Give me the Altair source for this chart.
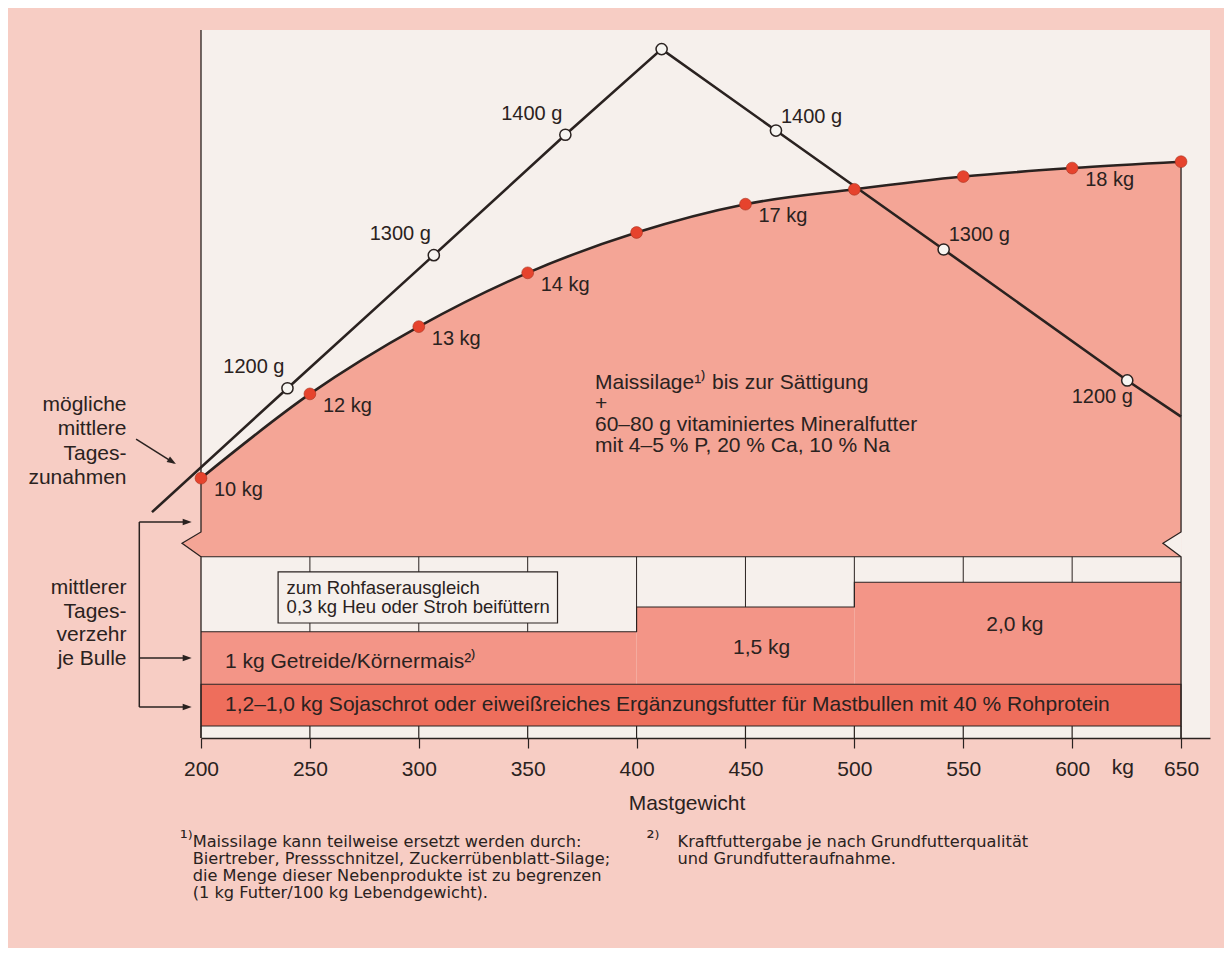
import altair as alt
import pandas as pd

# ---------------- data ----------------
# Mastgewicht (kg) of the marked points on the Maissilage curve
weights = [200, 250, 300, 350, 400, 450, 500, 550, 600, 650]
# relative height of the curve in the drawing (0 = x axis, 100 = top of the panel)
intake_height = [36.7, 48.6, 58.1, 65.7, 71.4, 75.4, 77.5, 79.3, 80.5, 81.4]
intake_labels = ["10 kg", "12 kg", "13 kg", "14 kg", "", "17 kg", "", "", "18 kg", ""]

# line of possible mean daily gains
gain_weights = [177.5, 239.7, 306.9, 367.3, 411.5, 464.0, 541.0, 625.3, 650.0]
gain_height = [31.9, 49.4, 68.2, 85.2, 97.3, 85.8, 69.0, 50.5, 45.4]
gain_labels = ["", "1200 g", "1300 g", "1400 g", "", "1400 g", "1300 g", "1200 g", ""]

tick_values = [200, 250, 300, 350, 400, 450, 500, 550, 600, 650]

# lower feeding bands (same relative height units)
band_top = 25.6
grain_from = [200, 400, 500]
grain_to = [400, 500, 650]
grain_top = [15.0, 18.5, 22.0]
grain_labels = ["1 kg Getreide/Körnermais²⁾", "1,5 kg", "2,0 kg"]
soy_from = 200
soy_to = 650
soy_top = 7.6
soy_bottom = 1.7
soy_label = "1,2–1,0 kg Sojaschrot oder eiweißreiches Ergänzungsfutter für Mastbullen mit 40 % Rohprotein"
hay_from = 235.4
hay_to = 363.7
hay_top = 23.45
hay_bottom = 16.24
hay_lines = ["zum Rohfaserausgleich", "0,3 kg Heu oder Stroh beifüttern"]

silage_lines = ["Maissilage¹⁾ bis zur Sättigung", "+",
                "60–80 g vitaminiertes Mineralfutter",
                "mit 4–5 % P, 20 % Ca, 10 % Na"]
gain_note = ["mögliche", "mittlere", "Tages-", "zunahmen"]
intake_note = ["mittlerer", "Tages-", "verzehr", "je Bulle"]
footnote1 = ["Maissilage kann teilweise ersetzt werden durch:",
             "Biertreber, Pressschnitzel, Zuckerrübenblatt-Silage;",
             "die Menge dieser Nebenprodukte ist zu begrenzen",
             "(1 kg Futter/100 kg Lebendgewicht)."]
footnote2 = ["Kraftfuttergabe je nach Grundfutterqualität",
             "und Grundfutteraufnahme."]

x_max = 663.3

# ---------------- styles ----------------
dark = "#2a2220"
bg = "#f7cdc4"
paper = "#f6f0ec"
pink_area = "#f4a596"
grain_col = "#f39587"
soy_col = "#ee6e5c"
dot_col = "#e6432d"
FONT = "Liberation Sans"
NOTE_FONT = "DejaVu Sans"

xs = alt.Scale(domain=[200, x_max], nice=False, zero=False)
ys = alt.Scale(domain=[0, 100], nice=False, zero=False)
xaxis = alt.Axis(values=tick_values, format="d", title="Mastgewicht",
                 titleX=485.5, titleY=65, titleAlign="center", titleBaseline="middle",
                 titleFontSize=21, titleFontWeight="normal", titleColor=dark, titleFont=FONT,
                 labelFontSize=21, labelColor=dark, labelFont=FONT, labelPadding=10,
                 labelFlush=False, labelOverlap=False,
                 tickSize=10, tickColor=dark, tickWidth=1.2,
                 domainColor=dark, domainWidth=1.3, grid=False)


def X(field):
    return alt.X(field, type="quantitative", scale=xs, axis=xaxis)


def Y(field):
    return alt.Y(field, type="quantitative", scale=ys, axis=None)


def one(x, y):
    return pd.DataFrame({"x": [x], "y": [y]})


curve = pd.DataFrame({"w": weights, "h": intake_height, "label": intake_labels, "base": band_top})
gain = pd.DataFrame({"i": list(range(len(gain_weights))), "w": gain_weights,
                     "h": gain_height, "label": gain_labels})

layers = []

# pink area below the Maissilage curve
layers.append(alt.Chart(curve).mark_area(color=pink_area, interpolate="monotone", opacity=1)
              .encode(x=X("w"), y=Y("h"), y2=alt.Y2("base")))

# break marks (notches) on both sides
notch_top, notch_tip = 29.1, 27.5
layers.append(alt.Chart(pd.DataFrame({"x": [191.3, 200], "y": [notch_tip, notch_top],
                                      "y2": [notch_tip, band_top]}))
              .mark_area(color=pink_area, opacity=1)
              .encode(x=X("x"), y=Y("y"), y2=alt.Y2("y2")))
layers.append(alt.Chart(pd.DataFrame({"x": [641.7, 650], "y": [notch_tip, notch_top],
                                      "y2": [notch_tip, band_top]}))
              .mark_area(color=paper, opacity=1)
              .encode(x=X("x"), y=Y("y"), y2=alt.Y2("y2")))

# grain bands
grain = pd.DataFrame({"a": grain_from, "b": grain_to, "top": grain_top, "bottom": soy_top})
layers.append(alt.Chart(grain).mark_rect(color=grain_col, opacity=1)
              .encode(x=X("a"), x2=alt.X2("b"), y=Y("top"), y2=alt.Y2("bottom")))

# soy band
layers.append(alt.Chart(pd.DataFrame({"a": [soy_from], "b": [soy_to], "t": [soy_top], "u": [soy_bottom]}))
              .mark_rect(fill=soy_col, stroke=dark, strokeWidth=1.1, opacity=1)
              .encode(x=X("a"), x2=alt.X2("b"), y=Y("t"), y2=alt.Y2("u")))

# grid lines in the light strip
grid_x = [v for v in tick_values if 200 < v < 650]
grid_bottom = [min(t for f, e, t in zip(grain_from, grain_to, grain_top) if f <= v <= e) for v in grid_x]
layers.append(alt.Chart(pd.DataFrame({"x": grid_x, "y": band_top, "y2": grid_bottom}))
              .mark_rule(color=dark, strokeWidth=1)
              .encode(x=X("x"), y=Y("y"), y2=alt.Y2("y2")))

# stepped upper edge of the grain bands
layers.append(alt.Chart(pd.DataFrame({"x": grain_from + [grain_to[-1]], "y": grain_top + [grain_top[-1]]}))
              .mark_line(interpolate="step-after", color=dark, strokeWidth=1.1)
              .encode(x=X("x"), y=Y("y")))

# upper edge of the lower region
layers.append(alt.Chart(pd.DataFrame({"x": [soy_from], "x2": [soy_to], "y": [band_top]}))
              .mark_rule(color=dark, strokeWidth=1.1)
              .encode(x=X("x"), x2=alt.X2("x2"), y=Y("y")))

# tick lines through the bottom strip
layers.append(alt.Chart(pd.DataFrame({"x": tick_values, "y": soy_bottom, "y2": 0}))
              .mark_rule(color=dark, strokeWidth=1.2)
              .encode(x=X("x"), y=Y("y"), y2=alt.Y2("y2")))

# hay / straw box
layers.append(alt.Chart(pd.DataFrame({"a": [hay_from], "b": [hay_to], "t": [hay_top], "u": [hay_bottom]}))
              .mark_rect(fill=paper, stroke=dark, strokeWidth=1.2, opacity=1)
              .encode(x=X("a"), x2=alt.X2("b"), y=Y("t"), y2=alt.Y2("u")))

# left and right borders with break marks
left_border = pd.DataFrame({"i": [0, 1, 2, 3, 4], "x": [200, 200, 191.3, 200, 200],
                            "y": [100, notch_top, notch_tip, band_top, 0]})
right_border = pd.DataFrame({"i": [0, 1, 2, 3, 4], "x": [650, 650, 641.7, 650, 650],
                             "y": [intake_height[-1], notch_top, notch_tip, band_top, 0]})
for df in (left_border, right_border):
    layers.append(alt.Chart(df).mark_line(color=dark, strokeWidth=1.3)
                  .encode(x=X("x"), y=Y("y"), order=alt.Order("i:Q")))

# Maissilage curve
layers.append(alt.Chart(curve).mark_line(color=dark, strokeWidth=2.6, interpolate="monotone")
              .encode(x=X("w"), y=Y("h")))

# daily gain line
layers.append(alt.Chart(gain).mark_line(color=dark, strokeWidth=2.6)
              .encode(x=X("w"), y=Y("h"), order=alt.Order("i:Q")))

# red dots
layers.append(alt.Chart(curve).mark_circle(size=140, color=dot_col, opacity=1,
                                           stroke="#a8321f", strokeWidth=0.6)
              .encode(x=X("w"), y=Y("h")))

# white circles on the gain line
gain_marked = gain.iloc[1:-1]
layers.append(alt.Chart(gain_marked).mark_point(shape="circle", filled=True, fill="#f7f5f1",
                                                stroke=dark, strokeWidth=1.5, size=125, opacity=1)
              .encode(x=X("w"), y=Y("h")))

# point labels
layers.append(alt.Chart(curve).mark_text(align="left", baseline="middle", dx=13, dy=12,
                                         fontSize=20, color=dark, font=FONT)
              .encode(x=X("w"), y=Y("h"), text="label:N"))
layers.append(alt.Chart(gain.iloc[1:4]).mark_text(align="right", baseline="middle", dx=-3, dy=-21,
                                                  fontSize=20, color=dark, font=FONT)
              .encode(x=X("w"), y=Y("h"), text="label:N"))
layers.append(alt.Chart(gain.iloc[5:7]).mark_text(align="left", baseline="middle", dx=5, dy=-14,
                                                  fontSize=20, color=dark, font=FONT)
              .encode(x=X("w"), y=Y("h"), text="label:N"))
layers.append(alt.Chart(gain.iloc[7:8]).mark_text(align="center", baseline="middle", dx=-25, dy=17,
                                                  fontSize=20, color=dark, font=FONT)
              .encode(x=X("w"), y=Y("h"), text="label:N"))

# band texts
layers.append(alt.Chart(pd.DataFrame({"x": [211.0], "y": [10.78], "t": [grain_labels[0]]}))
              .mark_text(align="left", baseline="middle", fontSize=21, color=dark, font=FONT)
              .encode(x=X("x"), y=Y("y"), text="t:N"))
layers.append(alt.Chart(pd.DataFrame({"x": [457.4, 573.7], "y": [12.7, 15.96], "t": grain_labels[1:]}))
              .mark_text(align="center", baseline="middle", fontSize=21, color=dark, font=FONT)
              .encode(x=X("x"), y=Y("y"), text="t:N"))
layers.append(alt.Chart(pd.DataFrame({"x": [211.0], "y": [4.66], "t": [soy_label]}))
              .mark_text(align="left", baseline="middle", fontSize=21, color=dark, font=FONT)
              .encode(x=X("x"), y=Y("y"), text="t:N"))
# multi-line texts: y gives the middle of the first line
layers.append(alt.Chart(one(239.3, 21.23))
              .mark_text(text=hay_lines, align="left", baseline="middle", lineHeight=19,
                         fontSize=18.5, color=dark, font=FONT)
              .encode(x=X("x"), y=Y("y")))
layers.append(alt.Chart(one(380.9, 50.18))
              .mark_text(text=silage_lines, align="left", baseline="middle", lineHeight=21,
                         fontSize=21, color=dark, font=FONT)
              .encode(x=X("x"), y=Y("y")))

# left side notes
layers.append(alt.Chart(one(165.8, 47.03))
              .mark_text(text=gain_note, align="right", baseline="middle", lineHeight=24.3,
                         fontSize=21, color=dark, font=FONT)
              .encode(x=X("x"), y=Y("y")))
layers.append(alt.Chart(one(165.8, 21.19))
              .mark_text(text=intake_note, align="right", baseline="middle", lineHeight=23.7,
                         fontSize=21, color=dark, font=FONT)
              .encode(x=X("x"), y=Y("y")))

arrow_head = "M0,0 L-2,-0.7 L-2,0.7 Z"
# arrow to the gain line
layers.append(alt.Chart(pd.DataFrame({"x": [170.2, 187.5], "y": [42.23, 38.86]}))
              .mark_line(color=dark, strokeWidth=1.5)
              .encode(x=X("x"), y=Y("y")))
layers.append(alt.Chart(one(188.5, 38.7))
              .mark_point(shape=arrow_head, filled=True, color=dark, size=81, angle=32, opacity=1)
              .encode(x=X("x"), y=Y("y")))
# bracket with three arrows
bracket_x, bracket_tip = 171.67, 195.73
bracket_y = [30.51, 11.3, 4.38]
layers.append(alt.Chart(pd.DataFrame({"x": [bracket_x], "y": [bracket_y[0]], "y2": [bracket_y[-1]]}))
              .mark_rule(color=dark, strokeWidth=1.5)
              .encode(x=X("x"), y=Y("y"), y2=alt.Y2("y2")))
layers.append(alt.Chart(pd.DataFrame({"x": bracket_x, "x2": bracket_tip - 2, "y": bracket_y}))
              .mark_rule(color=dark, strokeWidth=1.5)
              .encode(x=X("x"), x2=alt.X2("x2"), y=Y("y")))
layers.append(alt.Chart(pd.DataFrame({"x": bracket_tip, "y": bracket_y}))
              .mark_point(shape=arrow_head, filled=True, color=dark, size=81, angle=0, opacity=1)
              .encode(x=X("x"), y=Y("y")))

# unit label on the x axis
layers.append(alt.Chart(pd.DataFrame({"x": [623.3], "y": [-4.24], "t": ["kg"]}))
              .mark_text(align="center", baseline="middle", fontSize=21, color=dark, font=FONT)
              .encode(x=X("x"), y=Y("y"), text="t:N"))

# footnotes
layers.append(alt.Chart(pd.DataFrame({"x": [190.2, 404.6], "y": [-14.3, -14.3], "t": ["¹⁾", "²⁾"]}))
              .mark_text(align="left", baseline="middle", fontSize=20, color=dark, font=NOTE_FONT)
              .encode(x=X("x"), y=Y("y"), text="t:N"))
layers.append(alt.Chart(one(196.2, -14.65))
              .mark_text(text=footnote1, align="left", baseline="middle", lineHeight=17.2,
                         fontSize=16.2, color=dark, font=NOTE_FONT)
              .encode(x=X("x"), y=Y("y")))
layers.append(alt.Chart(one(418.8, -14.65))
              .mark_text(text=footnote2, align="left", baseline="middle", lineHeight=17.2,
                         fontSize=16.2, color=dark, font=NOTE_FONT)
              .encode(x=X("x"), y=Y("y")))

chart = (alt.layer(*layers)
         .properties(width=1009, height=708,
                     autosize=alt.AutoSizeParams(type="none"),
                     padding={"left": 193, "top": 22, "right": 14, "bottom": 210},
                     background=bg)
         .configure(font=FONT)
         .configure_view(fill=paper, strokeWidth=0))

chart.save("out.html", embed_options={"renderer": "svg", "actions": False})
